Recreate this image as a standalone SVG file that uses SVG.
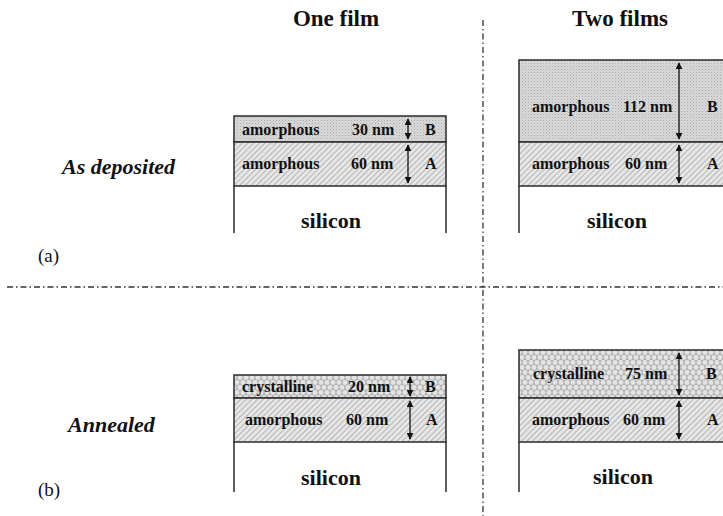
<svg xmlns="http://www.w3.org/2000/svg" width="723" height="516" viewBox="0 0 723 516">
<defs>
<pattern id="stip" width="3" height="3" patternUnits="userSpaceOnUse">
<rect width="3" height="3" fill="#d9d9d9"/>
<rect x="0" y="0" width="1" height="1" fill="#a9a9a9"/>
<rect x="1.5" y="1.5" width="1" height="1" fill="#bdbdbd"/>
</pattern>
<pattern id="hatch" width="4" height="4" patternUnits="userSpaceOnUse" patternTransform="rotate(45)">
<rect width="4" height="4" fill="#e6e6e6"/>
<line x1="0" y1="0" x2="0" y2="4" stroke="#9a9a9a" stroke-width="1.3"/>
</pattern>
<pattern id="cryst" width="6" height="10" patternUnits="userSpaceOnUse">
<rect width="6" height="10" fill="#b4b4b4"/>
<circle cx="3" cy="2.5" r="2.4" fill="#e4e4e4"/>
<circle cx="0" cy="7.5" r="2.4" fill="#e4e4e4"/>
<circle cx="6" cy="7.5" r="2.4" fill="#e4e4e4"/>
</pattern>
<marker id="ah" viewBox="0 0 10 10" refX="9" refY="5" markerWidth="7" markerHeight="7" orient="auto-start-reverse" markerUnits="userSpaceOnUse">
<path d="M0,0 L10,5 L0,10 z" fill="#111"/>
</marker>
</defs>
<style>
.t{font-family:"Liberation Serif","Times New Roman",serif;font-weight:bold;fill:#111}
.lay{font-size:16px}
.si{font-size:22px}
.ttl{font-size:23px}
.row{font-family:"Liberation Serif","Times New Roman",serif;font-weight:bold;font-style:italic;font-size:22px;fill:#111}
.lbl{font-family:"Liberation Serif","Times New Roman",serif;font-size:19px;fill:#111}
.bd{stroke:#2a2a2a;stroke-width:1.5;fill:none}
.st{stroke:#2a2a2a;stroke-width:1.5;fill:url(#stip)}
.ht{stroke:#2a2a2a;stroke-width:1.5;fill:url(#hatch)}
.cr{stroke:#2a2a2a;stroke-width:1.5;fill:url(#cryst)}
.dd{stroke:#333;stroke-width:1.3;fill:none;stroke-dasharray:6 3 1.5 3}
.ar{stroke:#111;stroke-width:1.3;fill:none;marker-start:url(#ah);marker-end:url(#ah)}
</style>
<rect width="723" height="516" fill="#fff"/>

<g id="titles">
<text class="t ttl" x="336" y="26" text-anchor="middle">One film</text>
<text class="t ttl" x="620" y="26" text-anchor="middle">Two films</text>
<text class="row" x="62" y="174">As deposited</text>
<text class="row" x="68" y="432">Annealed</text>
<text class="lbl" x="38" y="262">(a)</text>
<text class="lbl" x="38" y="496">(b)</text>
</g>

<g id="dividers">
<line class="dd" x1="483" y1="20" x2="483" y2="516"/>
<line class="dd" x1="7" y1="287" x2="723" y2="287"/>
</g>

<g id="stack-a-one">
<rect class="st" x="234" y="116" width="212" height="26"/>
<rect class="ht" x="234" y="142" width="212" height="44"/>
<line class="bd" x1="234" y1="186" x2="234" y2="233"/>
<line class="bd" x1="446" y1="186" x2="446" y2="233"/>
<text class="t lay" x="242" y="135">amorphous</text>
<text class="t lay" x="352" y="135">30 nm</text>
<text class="t lay" x="425" y="135">B</text>
<text class="t lay" x="242" y="169">amorphous</text>
<text class="t lay" x="351" y="169">60 nm</text>
<text class="t lay" x="425" y="169">A</text>
<text class="t si" x="331" y="228" text-anchor="middle">silicon</text>
</g>

<g id="stack-a-two">
<rect class="st" x="519" y="60" width="210" height="82"/>
<rect class="ht" x="519" y="142" width="210" height="44"/>
<line class="bd" x1="519" y1="186" x2="519" y2="233"/>
<text class="t lay" x="532" y="112">amorphous</text>
<text class="t lay" x="623" y="112">112 nm</text>
<text class="t lay" x="707" y="112">B</text>
<text class="t lay" x="532" y="169">amorphous</text>
<text class="t lay" x="625" y="169">60 nm</text>
<text class="t lay" x="707" y="169">A</text>
<text class="t si" x="617" y="228" text-anchor="middle">silicon</text>
</g>

<g id="stack-b-one">
<rect class="cr" x="234" y="375" width="212" height="23"/>
<rect class="ht" x="234" y="398" width="212" height="44"/>
<line class="bd" x1="234" y1="442" x2="234" y2="492"/>
<line class="bd" x1="446" y1="442" x2="446" y2="492"/>
<text class="t lay" x="242" y="392">crystalline</text>
<text class="t lay" x="348" y="392">20 nm</text>
<text class="t lay" x="425" y="392">B</text>
<text class="t lay" x="245" y="425">amorphous</text>
<text class="t lay" x="346" y="425">60 nm</text>
<text class="t lay" x="426" y="425">A</text>
<text class="t si" x="331" y="485" text-anchor="middle">silicon</text>
</g>

<g id="stack-b-two">
<rect class="cr" x="519" y="350" width="210" height="48"/>
<rect class="ht" x="519" y="398" width="210" height="44"/>
<line class="bd" x1="519" y1="442" x2="519" y2="492"/>
<text class="t lay" x="533" y="379">crystalline</text>
<text class="t lay" x="625" y="379">75 nm</text>
<text class="t lay" x="706" y="379">B</text>
<text class="t lay" x="532" y="425">amorphous</text>
<text class="t lay" x="623" y="425">60 nm</text>
<text class="t lay" x="707" y="425">A</text>
<text class="t si" x="623" y="484" text-anchor="middle">silicon</text>
</g>

<g id="connectors">
<line class="ar" x1="408" y1="119" x2="408" y2="139"/>
<line class="ar" x1="408" y1="145" x2="408" y2="183"/>
<line class="ar" x1="679" y1="63" x2="679" y2="139"/>
<line class="ar" x1="679" y1="145" x2="679" y2="183"/>
<line class="ar" x1="410" y1="377" x2="410" y2="396"/>
<line class="ar" x1="410" y1="401" x2="410" y2="439"/>
<line class="ar" x1="679" y1="353" x2="679" y2="395"/>
<line class="ar" x1="679" y1="401" x2="679" y2="439"/>
</g>
</svg>
